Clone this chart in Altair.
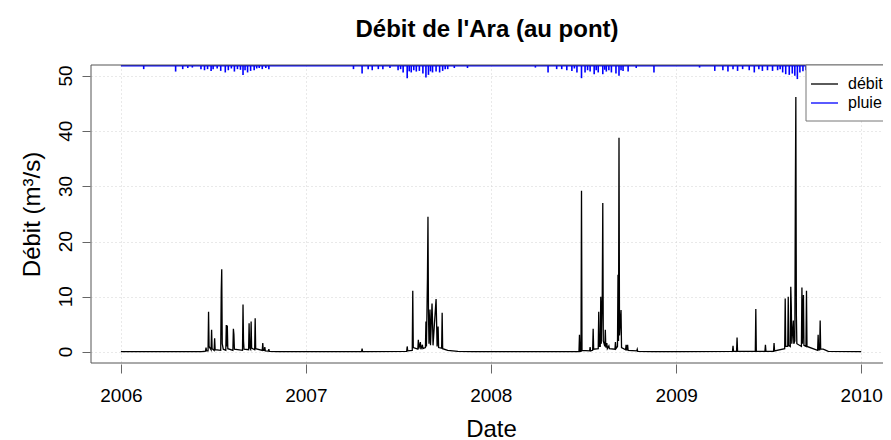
import altair as alt
import pandas as pd

FONT = "Liberation Sans"

# ---- Débit (m3/s): (jour de l'année, valeur) par année ----
debit_2006 = [(0, 0.05), (160, 0.05), (167, 0.15), (168, 0.8), (169, 0.2), (172, 0.2), (173, 7.3), (174, 1.0),
              (178, 0.4), (179, 4.0), (180, 0.6), (184, 0.3), (185, 2.5), (186, 0.4), (197, 0.3), (198, 10.9),
              (199, 15.0), (200, 1.5), (202, 0.5), (207, 0.3), (208, 4.9), (209, 1.0), (210, 4.8), (211, 0.6),
              (221, 0.3), (222, 4.2), (223, 3.2), (224, 0.5), (240, 0.3), (241, 8.6), (242, 2.0), (243, 0.5),
              (252, 0.4), (253, 5.2), (254, 0.8), (256, 0.5), (257, 5.5), (258, 0.7), (264, 0.4), (265, 6.1),
              (266, 0.6), (279, 0.3), (280, 1.6), (281, 0.3), (283, 0.3), (284, 0.9), (285, 0.2), (291, 0.15),
              (292, 0.5), (293, 0.1), (310, 0.05)]
debit_2007 = [(0, 0.05), (110, 0.05), (111, 0.6), (112, 0.05), (199, 0.1), (200, 1.0), (201, 0.2), (210, 0.3),
              (211, 11.1), (212, 0.8), (221, 0.5), (222, 2.2), (223, 0.6), (226, 1.8), (227, 0.5), (230, 1.3),
              (231, 0.6), (236, 0.8), (237, 5.5), (238, 1.0), (240, 13.5), (241, 24.5), (242, 7.3), (243, 1.5),
              (245, 7.7), (246, 1.2), (249, 8.8), (250, 5.7), (251, 1.2), (257, 9.6), (258, 5.5), (259, 1.0),
              (261, 4.6), (262, 0.8), (268, 0.7), (269, 7.1), (270, 0.6), (280, 0.3), (300, 0.1), (330, 0.05)]
debit_2008 = [(0, 0.05), (174, 0.05), (175, 3.1), (176, 0.1), (178, 0.1), (179, 29.2), (180, 0.3), (195, 0.2),
              (196, 0.9), (197, 0.2), (201, 0.3), (202, 4.2), (203, 0.5), (212, 0.6), (213, 7.3), (214, 1.0),
              (216, 1.0), (217, 10.0), (218, 1.5), (220, 10.5), (221, 27.0), (222, 2.0), (225, 1.0), (226, 4.0),
              (227, 0.8), (229, 1.6), (230, 0.6), (233, 1.1), (234, 0.6), (245, 0.5), (246, 1.8), (247, 0.6),
              (250, 1.0), (251, 14.0), (252, 2.0), (253, 38.8), (254, 3.0), (257, 7.6), (258, 0.8), (266, 0.4),
              (267, 1.3), (268, 0.3), (270, 1.3), (271, 0.3), (288, 0.2), (289, 0.5), (290, 0.1), (320, 0.05)]
debit_2009 = [(0, 0.05), (111, 0.1), (112, 1.1), (113, 0.1), (119, 0.1), (120, 2.6), (121, 0.1), (156, 0.1),
              (157, 7.8), (158, 0.1), (175, 0.1), (176, 1.3), (177, 0.1), (192, 0.1), (193, 1.6), (194, 0.2),
              (214, 0.6), (215, 9.7), (216, 1.0), (220, 1.0), (221, 10.0), (222, 1.2), (225, 1.0), (226, 11.8),
              (227, 8.2), (228, 1.5), (231, 5.7), (232, 1.5), (234, 2.0), (235, 28.0), (236, 46.2), (237, 6.9),
              (238, 1.5), (247, 1.0), (248, 11.7), (249, 1.5), (251, 10.3), (252, 1.2), (256, 1.0), (257, 11.1),
              (258, 1.0), (279, 0.3), (280, 3.1), (281, 0.4), (283, 0.4), (284, 5.7), (285, 0.5), (290, 0.5),
              (300, 0.1), (365, 0.05)]

# ---- Pluie (mm), tracée inversée depuis le haut: (jour de l'année, mm) ----
pluie_2006 = [(45, 15), (108, 26), (122, 15), (132, 10), (141, 8), (158, 15), (165, 20), (171, 15), (178, 23),
              (182, 15), (190, 12), (197, 23), (206, 30), (212, 20), (218, 12), (224, 26), (230, 15), (236, 18),
              (241, 41), (245, 20), (250, 30), (256, 23), (263, 20), (268, 12), (273, 10), (279, 15), (286, 10),
              (292, 15)]
pluie_2007 = [(94, 15), (111, 35), (123, 15), (131, 20), (143, 15), (152, 15), (166, 10), (182, 20), (187, 15),
              (192, 30), (200, 56), (204, 25), (208, 30), (213, 20), (218, 26), (224, 23), (231, 35), (237, 53),
              (242, 41), (246, 25), (250, 30), (257, 26), (264, 30), (270, 23), (275, 15), (280, 15), (293, 10),
              (319, 10)]
pluie_2008 = [(88, 8), (113, 30), (130, 15), (140, 15), (150, 20), (160, 23), (165, 12), (170, 30), (179, 56),
              (186, 30), (191, 20), (196, 26), (204, 38), (208, 20), (212, 30), (221, 38), (225, 18), (228, 26),
              (233, 20), (238, 30), (247, 35), (253, 45), (257, 20), (261, 23), (271, 26), (287, 10), (322, 30)]
pluie_2009 = [(46, 8), (76, 23), (92, 20), (102, 26), (112, 15), (121, 23), (131, 15), (144, 20), (154, 30),
              (163, 15), (170, 23), (180, 20), (190, 23), (200, 20), (205, 15), (210, 30), (216, 38), (223, 41),
              (229, 35), (234, 45), (239, 60), (244, 30), (250, 25), (256, 20), (265, 15)]

annees_ticks = [2006, 2007, 2008, 2009, 2010]
y_ticks = [0, 10, 20, 30, 40, 50]
legende_labels = ["débit", "pluie"]
legende_couleurs = ["black", "blue"]
PLUIE_BASE = 51.85
PLUIE_ECHELLE = 25.0

W, H = 792, 298


def to_df(series, col):
    rows = []
    for an, serie in series.items():
        for jour, val in serie:
            rows.append({"date": pd.Timestamp(year=an, month=1, day=1) + pd.Timedelta(days=jour), col: val})
    return pd.DataFrame(rows)


df_debit = to_df({2006: debit_2006, 2007: debit_2007, 2008: debit_2008, 2009: debit_2009}, "debit")
df_pluie = to_df({2006: pluie_2006, 2007: pluie_2007, 2008: pluie_2008, 2009: pluie_2009}, "pluie")
df_leg = pd.DataFrame({"label": legende_labels, "couleur": legende_couleurs})
df_one = df_leg.head(1)
df_yt = pd.DataFrame({"v": y_ticks})

x_scale = alt.Scale(domain=[alt.DateTime(year=2005, month=11, date=3), alt.DateTime(year=2010, month=2, date=13)])
y_scale = alt.Scale(domain=[-2, 52], nice=False, zero=False)

x_axis = alt.Axis(
    values=[alt.DateTime(year=a, month=1, date=1) for a in annees_ticks], format="%Y",
    title="Date", offset=1, tickSize=9, labelPadding=28, labelBaseline="alphabetic",
    titleX=400, titleY=72, titleAlign="center", titleBaseline="alphabetic",
)
y_axis = alt.Axis(
    values=y_ticks, title="Débit (m³/s)", offset=1, tickSize=8, labels=False,
    titleAngle=270, titleX=-51, titleY=149, titleAlign="center", titleBaseline="alphabetic",
)

ligne_debit = alt.Chart(df_debit).mark_line(color="black", strokeWidth=1.3).encode(
    x=alt.X("date:T", scale=x_scale, axis=x_axis),
    y=alt.Y("debit:Q", scale=y_scale, axis=y_axis),
)

pluie_barres = alt.Chart(df_pluie).transform_calculate(
    haut=f"{PLUIE_BASE}", bas=f"{PLUIE_BASE} - datum.pluie / {PLUIE_ECHELLE}"
).mark_rule(color="blue", strokeWidth=1.6).encode(
    x=alt.X("date:T", scale=x_scale, axis=x_axis),
    y=alt.Y("haut:Q", scale=y_scale, axis=y_axis),
    y2="bas:Q",
)

pluie_base = alt.Chart(df_debit).mark_rule(color="blue", strokeWidth=1.5).encode(
    x=alt.X("min(date):T", scale=x_scale, axis=x_axis),
    x2="max(date):T",
    y=alt.datum(PLUIE_BASE),
)

# étiquettes de l'axe y, parallèles à l'axe (comme R, las=0)
y_labels = alt.Chart(df_yt).mark_text(
    angle=270, align="center", baseline="alphabetic", fontSize=19, font=FONT, color="black"
).encode(
    x=alt.value(-19),
    y=alt.Y("v:Q", scale=y_scale, axis=y_axis),
    text=alt.Text("v:Q"),
)

# cadre (gauche, haut, bas) ; le bord droit est hors de l'image dans la référence
cadre = [
    alt.Chart(df_one).mark_rule(color="#555555", strokeWidth=1).encode(
        x=alt.value(0), x2=alt.value(W + 10), y=alt.value(0)),
    alt.Chart(df_one).mark_rule(color="#555555", strokeWidth=1).encode(
        x=alt.value(0), x2=alt.value(W + 10), y=alt.value(H)),
    alt.Chart(df_one).mark_rule(color="#555555", strokeWidth=1).encode(
        x=alt.value(0), y=alt.value(0), y2=alt.value(H)),
]

leg_box = alt.Chart(df_one).mark_rect(fill="white", stroke="#777777", strokeWidth=1).encode(
    x=alt.value(715), x2=alt.value(W + 20), y=alt.value(0), y2=alt.value(56)
)
leg_layers = [leg_box]
for i, (lab, col) in enumerate(zip(legende_labels, legende_couleurs)):
    yy = 19 + 19 * i
    d = df_leg[df_leg["label"] == lab]
    leg_layers.append(alt.Chart(d).mark_rule(color=col, strokeWidth=1.3).encode(
        x=alt.value(720), x2=alt.value(747), y=alt.value(yy)))
    leg_layers.append(alt.Chart(d).mark_text(align="left", baseline="middle", fontSize=16, font=FONT,
                                             color="black").encode(
        x=alt.value(757), y=alt.value(yy), text="label:N"))

chart = alt.layer(pluie_base, pluie_barres, ligne_debit, y_labels, *cadre, *leg_layers).properties(
    width=W, height=H,
    autosize=alt.AutoSizeParams(type="none"),
    padding={"left": 83, "top": 57, "right": 0, "bottom": 77},
    title=alt.TitleParams("Débit de l'Ara (au pont)", fontSize=24, fontWeight="bold", font=FONT,
                          anchor="middle", frame="group", offset=4, baseline="alphabetic", color="black"),
).configure_view(stroke=None).configure_axis(
    domain=False, tickColor="#666666", tickWidth=1, labelFont=FONT, labelFontSize=19, labelColor="black",
    titleFont=FONT, titleFontSize=24, titleFontWeight="normal", titleColor="black",
    grid=True, gridColor="#d3d3d3", gridDash=[1, 3], gridWidth=1,
)

chart.save("out.html", embed_options={"renderer": "svg", "actions": False})
